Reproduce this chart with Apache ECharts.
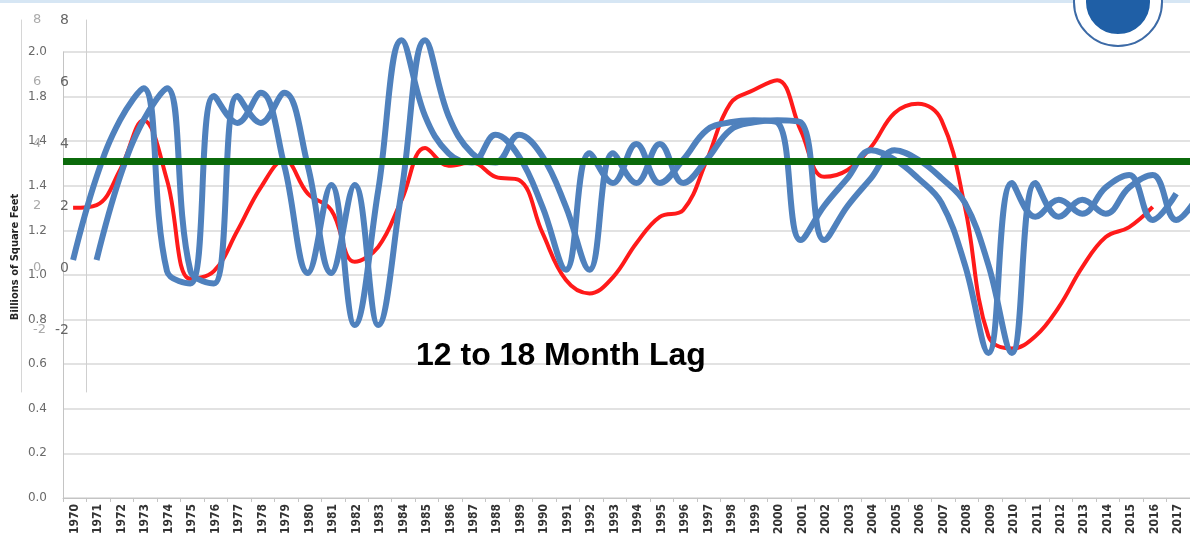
<!DOCTYPE html>
<html>
<head>
<meta charset="utf-8">
<title>12 to 18 Month Lag</title>
<script src="https://cdn.jsdelivr.net/npm/echarts@6/dist/echarts.min.js"></script>
<style>
    html, body { margin: 0; padding: 0; background: #fff; }
    #main { width: 1190px; height: 537px; }
</style>
</head>
<body>
<div id="main"></div>
<script>
// years on the bottom axis
var years = ['1970', '1971', '1972', '1973', '1974', '1975', '1976', '1977', '1978', '1979',
    '1980', '1981', '1982', '1983', '1984', '1985', '1986', '1987', '1988', '1989',
    '1990', '1991', '1992', '1993', '1994', '1995', '1996', '1997', '1998', '1999',
    '2000', '2001', '2002', '2003', '2004', '2005', '2006', '2007', '2008', '2009',
    '2010', '2011', '2012', '2013', '2014', '2015', '2016', '2017'];

// left axis labels, as printed (billions of sq ft)
var baseTickLabels = ['0.0', '0.2', '0.4', '0.6', '0.8', '1.0', '1.2', '1.4', '1.4', '1.8', '2.0'];

// red line, 1970-2016 (overlay scale -2..8)
var redVals = [1.94, 2.03, 3.16, 4.77, 2.84, -0.35, -0.1, 1.2, 2.6, 3.48,
    2.4, 1.87, 0.2, 0.68, 2.2, 3.87, 3.3, 3.4, 2.94, 2.84,
    1.13, -0.39, -0.82, -0.3, 0.8, 1.65, 1.87, 3.48, 5.3, 5.74,
    6.06, 4.45, 2.94, 3.16, 3.9, 5.0, 5.3, 4.77, 1.97, -2.2,
    -2.6, -2.2, -1.26, 0.03, 1.0, 1.32, 1.97];

// blue line, 1970-2017; drawn twice, second copy lagged one year
var blueVals = [0.26, 2.94, 4.77, 5.8, -0.1, -0.5, 5.55, 4.68, 5.65, 3.3,
    -0.16, 2.68, -1.84, 2.5, 7.35, 4.9, 3.7, 3.4, 4.3, 3.6,
    1.97, -0.06, 3.7, 2.74, 4.0, 2.74, 3.5, 4.45, 4.7, 4.77,
    4.7, 0.9, 2.0, 2.9, 3.8, 3.5, 2.9, 2.1, 0.1, -2.74,
    2.74, 1.65, 2.2, 1.75, 2.6, 3.0, 1.55, 2.4];
var lagYears = 1;

// green reference level
var greenLevel = 3.45;

function toPoints(vals, shift) {
    var pts = [];
    for (var i = 0; i < vals.length; i++) {
        pts.push([Number(years[i]) + shift, vals[i]]);
    }
    return pts;
}

var chart = echarts.init(document.getElementById('main'), null, {renderer: 'canvas'});

var option = {
    backgroundColor: '#fff',
    animation: false,
    title: {
        text: '12 to 18 Month Lag',
        left: 411,
        top: 335,
        textStyle: {
            fontFamily: 'Liberation Sans, Arial, sans-serif',
            fontSize: 32,
            fontWeight: 'bold',
            color: '#000'
        }
    },
    grid: [
        {left: 63, right: 0, top: 52, bottom: 36},   // base chart
        {left: 63, right: 0, top: 20, bottom: 145}   // pasted overlay
    ],
    xAxis: [
        {
            gridIndex: 0,
            type: 'category',
            data: years,
            boundaryGap: true,
            axisLine: {lineStyle: {color: '#c4c4c4'}},
            axisTick: {show: true, length: 4, lineStyle: {color: '#c4c4c4'}},
            axisLabel: {
                interval: 0,
                rotate: 90,
                margin: 6,
                fontFamily: 'Liberation Sans Narrow, DejaVu Sans Condensed, sans-serif',
                fontSize: 12,
                fontWeight: 'bold',
                color: '#333'
            }
        },
        {
            gridIndex: 1,
            type: 'value',
            min: 1969.57,
            max: 2017.59,
            show: false
        }
    ],
    yAxis: [
        {
            gridIndex: 0,
            type: 'value',
            min: 0,
            max: 2,
            interval: 0.2,
            axisLine: {show: true, lineStyle: {color: '#c4c4c4'}},
            axisTick: {show: false},
            axisLabel: {
                margin: 16,
                fontFamily: 'DejaVu Sans, sans-serif',
                fontSize: 12,
                color: '#6a6a6a',
                formatter: function(v) {
                    return baseTickLabels[Math.round(v / 0.2)];
                }
            },
            splitLine: {lineStyle: {color: '#d9d9d9', width: 1.5}}
        },
        {
            gridIndex: 1,
            type: 'value',
            min: -4,
            max: 8,
            interval: 2,
            position: 'left',
            offset: -23,
            axisLine: {show: true, lineStyle: {color: '#cfcfcf'}},
            axisTick: {show: false},
            axisLabel: {
                showMinLabel: false,
                margin: 17,
                fontFamily: 'DejaVu Sans, sans-serif',
                fontSize: 14,
                color: '#666'
            },
            splitLine: {show: false}
        },
        {
            // faint ghost of the overlay axis further left
            gridIndex: 1,
            type: 'value',
            min: -4,
            max: 8,
            interval: 2,
            position: 'left',
            offset: 42,
            axisLine: {show: true, lineStyle: {color: '#d6d6d6'}},
            axisTick: {show: false},
            axisLabel: {
                inside: true,
                showMinLabel: false,
                margin: 12,
                fontFamily: 'DejaVu Sans, sans-serif',
                fontSize: 13,
                color: '#aaa'
            },
            splitLine: {show: false}
        }
    ],
    graphic: [
        {
            type: 'text',
            x: 15,
            y: 257,
            rotation: Math.PI / 2,
            style: {
                text: 'Billions of Square Feet',
                x: 0,
                y: 0,
                align: 'center',
                verticalAlign: 'middle',
                font: 'bold 11px "Liberation Sans Narrow", "DejaVu Sans Condensed", sans-serif',
                fill: '#222'
            }
        },
        {
            type: 'rect',
            shape: {x: 0, y: 0, width: 1190, height: 3},
            style: {fill: '#d6e6f4'}
        },
        {
            // seal in the corner
            type: 'group',
            children: [
                {type: 'circle', shape: {cx: 1118, cy: 2, r: 44}, style: {fill: '#fff', stroke: '#3c6aa6', lineWidth: 2}},
                {type: 'circle', shape: {cx: 1118, cy: 2, r: 33}, style: {fill: '#1f5fa6', stroke: '#fff', lineWidth: 2}}
            ]
        }
    ],
    series: [
        {
            name: 'level',
            type: 'line',
            xAxisIndex: 1,
            yAxisIndex: 1,
            data: [],
            markLine: {
                silent: true,
                symbol: 'none',
                label: {show: false},
                lineStyle: {color: '#0b6a0b', width: 7, type: 'solid'},
                data: [{yAxis: greenLevel}]
            }
        },
        {
            name: 'red',
            type: 'line',
            xAxisIndex: 1,
            yAxisIndex: 1,
            data: toPoints(redVals, 0),
            smooth: 0.4,
            showSymbol: false,
            lineStyle: {color: '#ff1a1a', width: 4}
        },
        {
            name: 'blue',
            type: 'line',
            xAxisIndex: 1,
            yAxisIndex: 1,
            data: toPoints(blueVals, 0),
            smooth: 0.4,
            showSymbol: false,
            lineStyle: {color: '#4f81bd', width: 6}
        },
        {
            name: 'blue lagged',
            type: 'line',
            xAxisIndex: 1,
            yAxisIndex: 1,
            data: toPoints(blueVals, lagYears),
            smooth: 0.4,
            showSymbol: false,
            lineStyle: {color: '#4f81bd', width: 6}
        }
    ]
};

chart.setOption(option);
</script>
</body>
</html>
